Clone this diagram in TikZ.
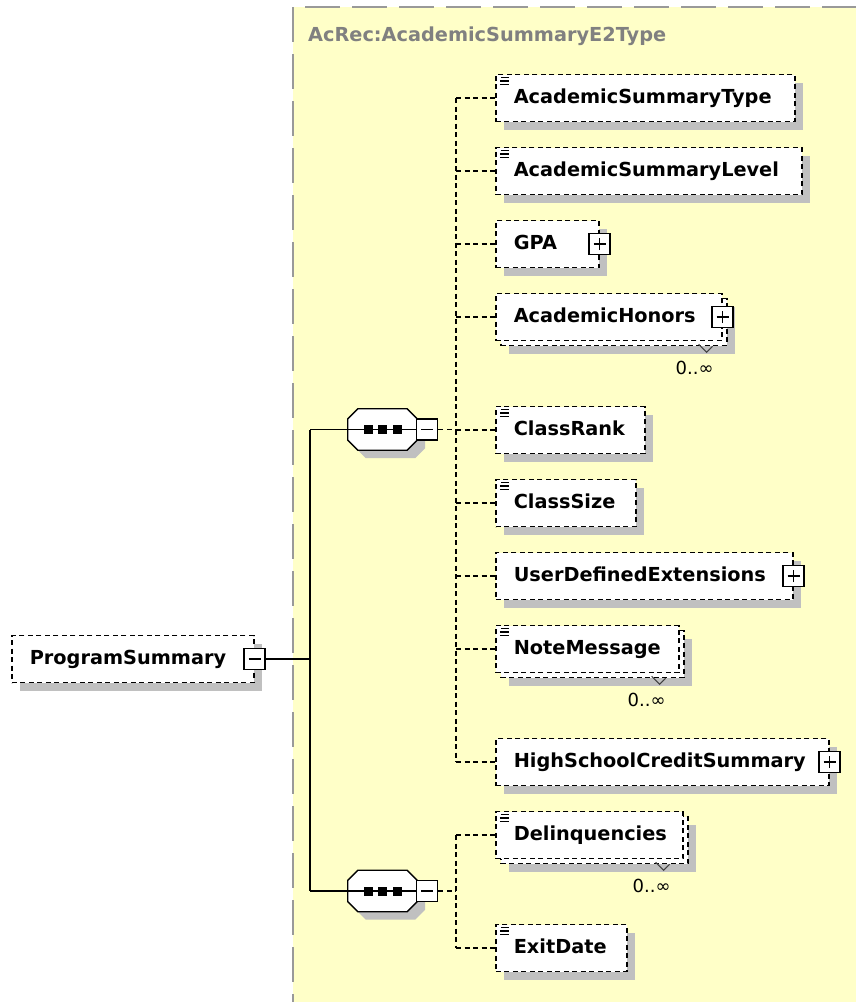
\documentclass[tikz,border=0pt]{standalone}
\usepackage{fontspec}
\newfontfamily\dvs{DejaVu Sans}
\usetikzlibrary{shadows,calc}
\definecolor{bgyellow}{HTML}{FFFFC8}
\definecolor{shadowgray}{HTML}{C0C0C0}
\definecolor{bordergray}{HTML}{999999}
\definecolor{titlegray}{HTML}{808080}
\tikzset{
  elem/.style={draw=black, line width=1.6pt, dash pattern=on 5pt off 3.5pt, fill=white,
    font=\dvs\bfseries\fontsize{19.3}{22}\selectfont, inner xsep=18pt, inner ysep=0pt,
    minimum height=47pt, text height=14pt, text depth=4pt, align=left, anchor=west},
  shad/.style={drop shadow={shadow xshift=8pt, shadow yshift=-8pt, fill=shadowgray, opacity=1}},
  simp/.style={path picture={
      \draw[solid, line width=1.2pt] ([shift={(5pt,-3pt)}]path picture bounding box.north west) -- ++(8pt,0pt);
      \draw[solid, line width=1.2pt] ([shift={(4pt,-6.5pt)}]path picture bounding box.north west) -- ++(9pt,0pt);
      \draw[solid, line width=1.2pt] ([shift={(4pt,-10pt)}]path picture bounding box.north west) -- ++(9pt,0pt);}},
  pmbox/.style={draw=black, solid, line width=1.5pt, fill=white, minimum size=21pt, inner sep=0pt},
  plusbox/.style={pmbox, path picture={
      \draw[solid, line width=1.5pt] ([xshift=-6pt]path picture bounding box.center) -- ([xshift=6pt]path picture bounding box.center);
      \draw[solid, line width=1.5pt] ([yshift=-6pt]path picture bounding box.center) -- ([yshift=6pt]path picture bounding box.center);}},
  minusbox/.style={pmbox, path picture={
      \draw[solid, line width=1.5pt] ([xshift=-6pt]path picture bounding box.center) -- ([xshift=6pt]path picture bounding box.center);}},
  seqbox/.style={minimum width=69pt, minimum height=41pt, inner sep=0pt},
  octo/.style={insert path={([xshift=10pt]#1.north west) -- ([xshift=-10pt]#1.north east)
      -- ([yshift=-10pt]#1.north east) -- ([yshift=10pt]#1.south east)
      -- ([xshift=-10pt]#1.south east) -- ([xshift=10pt]#1.south west)
      -- ([yshift=10pt]#1.south west) -- ([yshift=-10pt]#1.north west) -- cycle}},
  dotsq/.style={fill=black, minimum size=9pt, inner sep=0pt},
  conn/.style={line width=1.6pt, dash pattern=on 5pt off 3.5pt},
  solidconn/.style={line width=1.6pt},
  lbl/.style={font=\dvs\fontsize{18}{20}\selectfont, inner sep=0pt},
  vmark/.style={line width=1pt, black!75},
}
\begin{document}
\begin{tikzpicture}[x=1pt, y=-1pt]
\useasboundingbox (0,0) rectangle (856,1002);
% background region
\fill[bgyellow] (293,7) rectangle (860,1006);
\draw[bordergray, line width=2.2pt, dash pattern=on 35pt off 12pt] (293,7) -- (293,1004);
\draw[bordergray, line width=2.2pt, dash pattern=on 35pt off 12pt, dash phase=-12pt] (293,7) -- (858,7);
\node[font=\dvs\bfseries\fontsize{19.3}{22}\selectfont, text=titlegray, anchor=base west, inner sep=0pt] (title) at (308,41) {AcRec:AcademicSummaryE2Type};

% root element
\node[elem, shad, text width=206pt] (psm) at (11,659) {ProgramSummary};
\node[minusbox] (pm) at (psm.east) {};

% sequence compositors
\node[seqbox] (s1) at (382.5,429.5) {};
\node[seqbox] (s2) at (382.5,891) {};
\fill[shadowgray, transform canvas={shift={(8pt,-8pt)}}, octo=s1];
\fill[shadowgray, transform canvas={shift={(8pt,-8pt)}}, octo=s2];
\filldraw[fill=white, draw=black, line width=1.3pt, octo=s1];
\filldraw[fill=white, draw=black, line width=1.3pt, octo=s2];
\draw[line width=1.5pt] (s1.west) -- (s1.east);
\draw[line width=1.5pt] (s2.west) -- (s2.east);
\node[dotsq] (s1a) at ([xshift=-14.5pt]s1.center) {};
\node[dotsq] (s1b) at (s1.center) {};
\node[dotsq] (s1c) at ([xshift=14.5pt]s1.center) {};
\node[dotsq] (s2a) at ([xshift=-14.5pt]s2.center) {};
\node[dotsq] (s2b) at (s2.center) {};
\node[dotsq] (s2c) at ([xshift=14.5pt]s2.center) {};
\node[minusbox] (m1) at ([xshift=10pt]s1.east) {};
\node[minusbox] (m2) at ([xshift=10pt]s2.east) {};

% child elements
\node[elem, shad, simp, text width=263pt] (ast) at (495,98) {AcademicSummaryType};
\node[elem, shad, simp, text width=270pt] (asl) at (495,171) {AcademicSummaryLevel};
\node[elem, shad, text width=67pt] (gpa) at (495,244) {GPA};
\node[plusbox] (gpap) at (gpa.east) {};

\node[elem, shad, text width=190pt] (ahb) at (500,322) {};
\node[elem, text width=190pt] (ah) at (495,317) {AcademicHonors};
\node[plusbox] (ahp) at (ah.east) {};
\draw[vmark] ($(ah.south east)+(-24,3)$) -- ++(8,8) -- ++(6,-6);
\node[lbl] (ahl) at ($(ah.south east)+(-28,26.5)$) {0..∞};

\node[elem, shad, simp, text width=113pt] (cr) at (495,430) {ClassRank};
\node[elem, shad, simp, text width=104pt] (cs) at (495,503) {ClassSize};
\node[elem, shad, text width=261pt] (ude) at (495,576) {UserDefinedExtensions};
\node[plusbox] (udep) at (ude.east) {};

\node[elem, shad, text width=147pt] (nmb) at (500,654) {};
\node[elem, simp, text width=147pt] (nm) at (495,649) {NoteMessage};
\draw[vmark] ($(nm.south east)+(-28,3)$) -- ++(8,8) -- ++(6,-6);
\node[lbl] (nml) at ($(nm.south east)+(-33,26.5)$) {0..∞};

\node[elem, shad, text width=297pt] (hscs) at (495,762) {HighSchoolCreditSummary};
\node[plusbox] (hscsp) at (hscs.east) {};

\node[elem, shad, text width=151pt] (dlb) at (500,840) {};
\node[elem, simp, text width=151pt] (dl) at (495,835) {Delinquencies};
\draw[vmark] ($(dl.south east)+(-28,3)$) -- ++(8,8) -- ++(6,-6);
\node[lbl] (dll) at ($(dl.south east)+(-32,26.5)$) {0..∞};

\node[elem, shad, simp, text width=95pt] (ed) at (495,948) {ExitDate};

% solid connectors
\coordinate (sx) at (310,0);
\draw[solidconn] (pm.east) -- (pm.east -| sx);
\draw[solidconn] (sx |- s1.west) -- (sx |- s2.west);
\draw[solidconn] (sx |- s1.west) -- (s1.west);
\draw[solidconn] (sx |- s2.west) -- (s2.west);

% dashed connectors
\coordinate (bx) at (456,0);
\draw[conn] (m1.east) -- (m1.east -| bx);
\draw[conn] (bx |- ast.west) -- (bx |- hscs.west);
\foreach \n in {ast,asl,gpa,ah,cr,cs,ude,nm,hscs}{
  \draw[conn] (bx |- \n.west) -- (\n.west);
}
\draw[conn] (m2.east) -- (m2.east -| bx);
\draw[conn] (bx |- dl.west) -- (bx |- ed.west);
\draw[conn] (bx |- dl.west) -- (dl.west);
\draw[conn] (bx |- ed.west) -- (ed.west);
\end{tikzpicture}
\end{document}
